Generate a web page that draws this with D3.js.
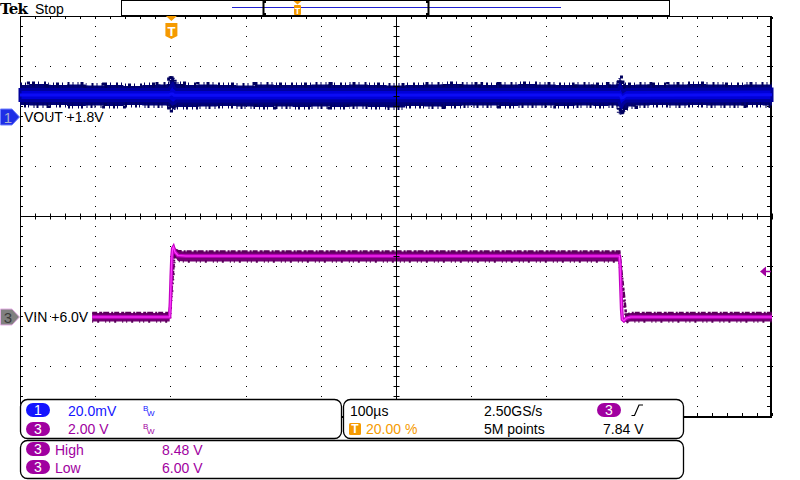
<!DOCTYPE html>
<html lang="en">
<head>
<meta charset="utf-8">
<title>Tek capture - VOUT / VIN step</title>
<script src="https://d3js.org/d3.v7.min.js"></script>
<style>
body { margin: 0; background: #ffffff; }
text { font-family: "Liberation Sans", Arial, sans-serif; }
</style>
</head>
<body>
<div id="scope"></div>
<script>
// ---- values read off the capture ----
// horizontal: 100us/div, trigger at 20 % of the record
var timeTicks = [-200, -100, 0, 100, 200, 300, 400, 500, 600, 700, 800];

// CH1 VOUT, mV above the +1.8V offset: outer noise envelope
var voutT  = [-200,-175,-150,-125,-100,-75,-50,-25,-8,-2,0,2,3,4,6,10,25,50,75,100,125,150,175,200,225,250,275,300,325,350,375,400,425,450,475,500,525,550,575,590,596,598,599,600,601,603,606,612,625,650,675,700,725,750,775,800];
var voutHi = [12.8,13.2,12.8,13.0,12.6,12.8,12.4,12.8,13.0,13.2,14.8,16.4,15.2,15.6,14.0,13.2,12.8,13.0,12.8,12.6,13.0,12.8,12.8,13.0,12.8,13.0,12.8,12.6,12.8,13.0,13.2,13.0,12.8,13.0,13.2,13.0,12.8,13.0,12.8,13.0,13.4,15.6,14.4,13.6,12.4,13.2,12.8,12.8,13.0,12.8,13.0,13.2,13.0,12.8,13.0,13.0];
var voutLo = [4.8,4.6,4.8,4.4,4.6,4.4,4.8,4.6,4.6,4.4,4.0,3.6,2.8,3.2,3.8,4.0,4.0,4.2,4.4,4.2,4.0,4.2,4.0,4.2,4.0,4.2,4.0,3.8,4.4,4.2,4.4,4.6,4.6,4.4,4.6,4.6,4.4,4.6,4.4,4.6,4.2,1.6,0.8,2.4,3.2,2.2,3.6,4.2,4.6,4.8,4.6,4.8,4.6,4.6,4.8,4.6];
// brighter core of the VOUT band
var coreT  = [-200, -2, 1, 3, 5, 8, 596, 598, 600, 602, 606, 800];
var coreHi = [11.0, 11.0, 12.4, 13.2, 11.8, 11.0, 11.0, 12.6, 11.4, 10.2, 11.0, 11.2];
var coreLo = [6.6, 6.6, 6.0, 5.2, 5.6, 6.4, 6.6, 5.0, 4.0, 5.4, 6.4, 6.6];

// CH3 VIN in volts, with noise band above / below the trace
var vinT  = [-104, -1, 0, 1, 2, 3, 4, 6, 10, 20, 597, 598, 599, 600, 601, 603, 606, 612, 800];
var vinV  = [6.0, 6.0, 6.6, 7.6, 8.4, 8.75, 8.8, 8.6, 8.46, 8.44, 8.44, 8.1, 7.2, 6.3, 5.9, 5.85, 5.95, 6.0, 6.0];
var vinUp = [0.16, 0.16, 0, 0, 0, 0, 0, 0.12, 0.18, 0.18, 0.18, 0, 0, 0, 0, 0, 0.12, 0.16, 0.16];
var vinDn = [0.18, 0.18, 0, 0, 0, 0, 0, 0.18, 0.22, 0.22, 0.22, 0, 0, 0, 0, 0, 0.16, 0.18, 0.18];

// readouts
var ch1Label = "VOUT +1.8V", ch3Label = "VIN +6.0V";
var ch1Scale = "20.0mV", ch3Scale = "2.00 V";
var timeDiv = "100µs", sampleRate = "2.50GS/s", recordLen = "5M points";
var trigPos = "20.00 %", trigLevel = 7.84, trigText = "7.84 V";
var measNames = ["High", "Low"], measVals = ["8.48 V", "6.00 V"];

// colours
var c1 = "#1414ff", c3 = "#a000a0", cT = "#f59a00";

var svg = d3.select("#scope")
  .append("svg")
    .attr("width", 800)
    .attr("height", 480);

// scales: time -> x, divisions -> y, and one per channel
var x = d3.scaleLinear().domain([-200, 800]).range([20, 772]);
var yDiv = d3.scaleLinear().domain([-4, 4]).range([416, 16]);
var ch1Pos = 1.98, ch3Pos = -2.02;   // channel offsets in divisions
var y1 = d3.scaleLinear().domain([0, 20]).range([yDiv(ch1Pos), yDiv(ch1Pos + 1)]);
var y3 = d3.scaleLinear().domain([6, 8]).range([yDiv(ch3Pos), yDiv(ch3Pos + 1)]);

var px = function(v) { return Math.round(v); };

// ---- graticule ----
var minorX = d3.range(-200, 801, 20);
var minorY = d3.range(-40, 41, 2).map(function(d) { return d / 10; });
var dots = [];
timeTicks.filter(function(t) { return t > -200 && t < 800 && t != 300; }).forEach(function(t) {
  minorY.forEach(function(v) { dots.push([x(t), yDiv(v)]); });
});
[-3, -2, -1, 1, 2, 3].forEach(function(v) {
  minorX.forEach(function(t) { dots.push([x(t), yDiv(v)]); });
});
svg.append("g")
  .selectAll("rect")
  .data(dots)
  .enter()
  .append("rect")
    .attr("x", function(d) { return px(d[0]); })
    .attr("y", function(d) { return px(d[1]); })
    .attr("width", 1)
    .attr("height", 1)
    .attr("fill", "#000");

// border with small ticks
var border = svg.append("g").attr("stroke", "#000");
border.append("line").attr("x1", 20).attr("x2", 772).attr("y1", 16.5).attr("y2", 16.5);
border.append("line").attr("x1", 20.5).attr("x2", 20.5).attr("y1", 16).attr("y2", 417);
border.append("line").attr("x1", 771).attr("x2", 771).attr("y1", 16).attr("y2", 418).attr("stroke-width", 2);
border.append("line").attr("x1", 20).attr("x2", 772).attr("y1", 417).attr("y2", 417).attr("stroke-width", 2);
minorX.forEach(function(t) {
  border.append("rect").attr("x", px(x(t))).attr("y", 17).attr("width", 1).attr("height", 2).attr("stroke", "none").attr("fill", "#000");
  border.append("rect").attr("x", px(x(t))).attr("y", 413).attr("width", 1).attr("height", 3).attr("stroke", "none").attr("fill", "#000");
});
minorY.forEach(function(v) {
  border.append("rect").attr("x", 21).attr("y", px(yDiv(v))).attr("width", 2).attr("height", 1).attr("stroke", "none").attr("fill", "#000");
  border.append("rect").attr("x", 767).attr("y", px(yDiv(v))).attr("width", 3).attr("height", 1).attr("stroke", "none").attr("fill", "#000");
});

// ---- CH1 VOUT band ----
var voutData = voutT.map(function(t, i) { return {t: t, hi: voutHi[i], lo: voutLo[i]}; });
var coreData = coreT.map(function(t, i) { return {t: t, hi: coreHi[i], lo: coreLo[i]}; });

svg.append("path")
  .datum(voutData)
  .attr("fill", "#000078")
  .attr("d", d3.area().curve(d3.curveStep)
    .x(function(d) { return x(d.t); })
    .y0(function(d) { return y1(d.lo); })
    .y1(function(d) { return y1(d.hi); }));
// ragged fringe on both edges
["hi", "lo"].forEach(function(k, i) {
  svg.append("path")
    .datum(voutData)
    .attr("fill", "none")
    .attr("stroke", "#00005e")
    .attr("stroke-width", 5)
    .attr("stroke-dasharray", i ? "1,3,2,2,1,5,1,2,2,4" : "2,3,1,4,1,2,3,3,1,5")
    .attr("d", d3.line().curve(d3.curveStep)
      .x(function(d) { return x(d.t); })
      .y(function(d) { return y1(d[k]); }));
});
svg.append("path")
  .datum(coreData)
  .attr("fill", "#0000d8")
  .attr("stroke", "#00009c")
  .attr("stroke-width", 3)
  .attr("d", d3.area()
    .x(function(d) { return x(d.t); })
    .y0(function(d) { return y1(d.lo); })
    .y1(function(d) { return y1(d.hi); }));
svg.append("path")
  .datum(coreData)
  .attr("fill", "none")
  .attr("stroke", "#0c0cf6")
  .attr("stroke-width", 3)
  .attr("d", d3.line()
    .x(function(d) { return x(d.t); })
    .y(function(d) { return y1((d.hi + d.lo) / 2); }));

// ---- CH3 VIN trace ----
var vinData = vinT.map(function(t, i) { return {t: t, v: vinV[i], up: vinUp[i], dn: vinDn[i]}; });
svg.append("path")
  .datum(vinData)
  .attr("fill", "#740074")
  .attr("d", d3.area()
    .x(function(d) { return x(d.t); })
    .y0(function(d) { return y3(d.v - d.dn); })
    .y1(function(d) { return y3(d.v + d.up); }));
["up", "dn"].forEach(function(k, i) {
  svg.append("path")
    .datum(vinData.filter(function(d) { return d[k] > 0.1; }))
    .attr("fill", "none")
    .attr("stroke", "#5a005a")
    .attr("stroke-width", 2.5)
    .attr("stroke-dasharray", i ? "1,4,2,6,1,3" : "5,2,3,1,6,2,2,1")
    .attr("d", d3.line()
      .x(function(d) { return x(d.t); })
      .y(function(d) { return y3(k == "up" ? d.v + d.up : d.v - d.dn); }));
});
svg.append("path")
  .datum(vinData)
  .attr("fill", "none")
  .attr("stroke", "#c400c4")
  .attr("stroke-width", 3.5)
  .attr("d", d3.line()
    .x(function(d) { return x(d.t); })
    .y(function(d) { return y3(d.v); }));
svg.append("path")
  .datum(vinData)
  .attr("fill", "none")
  .attr("stroke", "#ff3cff")
  .attr("stroke-width", 1.2)
  .attr("d", d3.line()
    .x(function(d) { return x(d.t); })
    .y(function(d) { return y3(d.v); }));

// ---- centre cross drawn on top of the traces ----
var cx0 = px(x(300)) + 0.5, cy0 = px(yDiv(0)) + 0.5;
var cross = svg.append("g").attr("stroke", "#000").attr("stroke-width", 1);
cross.append("line").attr("x1", cx0).attr("x2", cx0).attr("y1", 16).attr("y2", 416);
cross.append("line").attr("x1", 20).attr("x2", 771).attr("y1", cy0).attr("y2", cy0);
minorY.forEach(function(v) {
  cross.append("line").attr("x1", cx0 - 3).attr("x2", cx0 + 3).attr("y1", px(yDiv(v)) + 0.5).attr("y2", px(yDiv(v)) + 0.5);
});
minorX.forEach(function(t) {
  cross.append("line").attr("x1", px(x(t)) + 0.5).attr("x2", px(x(t)) + 0.5).attr("y1", cy0 - 3).attr("y2", cy0 + 3);
});

// ---- channel ground markers and labels ----
function chMarker(yc, fill, edge, txt, num) {
  var g = svg.append("g");
  g.append("path")
    .attr("d", "M0.5," + (yc - 8) + " H12 L19.5," + yc + " L12," + (yc + 8) + " H0.5 Z")
    .attr("fill", fill)
    .attr("stroke", edge);
  g.append("text")
    .attr("x", 8).attr("y", yc + 5.5)
    .attr("text-anchor", "middle")
    .attr("font-size", "15px")
    .attr("fill", txt)
    .text(num);
}
chMarker(px(y1(0)), "#1e2ee6", "#7080ff", "#a8acd0", "1");
chMarker(px(y3(6)), "#808080", "#e6b0e6", "#3a3a3a", "3");

svg.append("text").attr("x", 24).attr("y", px(y1(0)) + 5).attr("font-size", "14px").attr("fill", "#000").text(ch1Label);
svg.append("text").attr("x", 24).attr("y", px(y3(6)) + 5).attr("font-size", "14px").attr("fill", "#000").text(ch3Label);

// trigger level arrow on the right edge
var ty = px(y3(trigLevel)) + 0.5;
svg.append("path").attr("d", "M760," + ty + " L766," + (ty - 5) + " L766," + (ty + 5) + " Z").attr("fill", c3);
svg.append("line").attr("x1", 766).attr("x2", 771).attr("y1", ty).attr("y2", ty).attr("stroke", c3).attr("stroke-width", 1.5);

// trigger position marker at the top of the graticule
var tx = x(0) + 1;
svg.append("path").attr("d", "M" + (tx - 5.5) + ",16 H" + (tx + 5.5) + " L" + tx + ",21 Z").attr("fill", cT);
svg.append("path")
  .attr("d", "M" + (tx - 6) + ",23 H" + (tx + 6) + " V36 L" + tx + ",39 L" + (tx - 6) + ",36 Z")
  .attr("fill", cT);
svg.append("text").attr("x", tx).attr("y", 35.5).attr("text-anchor", "middle")
  .attr("font-size", "13px").attr("font-weight", "bold").attr("fill", "#fff").text("T");

// ---- header ----
svg.append("text").attr("x", 0).attr("y", 14)
  .style("font-family", "'DejaVu Serif', serif").attr("font-weight", "bold")
  .attr("font-size", "15px").attr("letter-spacing", "-0.8px").attr("fill", "#000").text("Tek");
svg.append("text").attr("x", 35).attr("y", 13.5).attr("font-size", "14px").attr("fill", "#000").text("Stop");
svg.append("rect").attr("x", 121.5).attr("y", 0.5).attr("width", 548).attr("height", 15)
  .attr("fill", "#fff").attr("stroke", "#000");
svg.append("line").attr("x1", 232).attr("x2", 561).attr("y1", 7.5).attr("y2", 7.5).attr("stroke", "#2020d0");
svg.append("path").attr("d", "M266,2 H263.5 V14 H266").attr("fill", "none").attr("stroke", "#000").attr("stroke-width", 2);
svg.append("path").attr("d", "M426,2 H428.5 V14 H426").attr("fill", "none").attr("stroke", "#000").attr("stroke-width", 2);
svg.append("path").attr("d", "M293.5,1 H301.5 L297.5,4.5 Z").attr("fill", cT);
svg.append("rect").attr("x", 294).attr("y", 5).attr("width", 7).attr("height", 10).attr("rx", 1).attr("fill", cT);
svg.append("text").attr("x", 297.5).attr("y", 13.5).attr("text-anchor", "middle")
  .attr("font-size", "9px").attr("font-weight", "bold").attr("fill", "#fff").text("T");

// ---- readout panels ----
function panel(x0, y0, w, h) {
  svg.append("rect").attr("x", x0 + 0.5).attr("y", y0 + 0.5).attr("width", w).attr("height", h)
    .attr("rx", 7).attr("fill", "#fff").attr("stroke", "#000").attr("stroke-width", 1.3);
}
function pill(x0, yc, fill, num) {
  svg.append("rect").attr("x", x0).attr("y", yc - 7).attr("width", 24).attr("height", 14)
    .attr("rx", 7).attr("fill", fill);
  svg.append("text").attr("x", x0 + 12).attr("y", yc + 5).attr("text-anchor", "middle")
    .attr("font-size", "14px").attr("fill", "#fff").text(num);
}
function label(xx, yy, txt, col) {
  svg.append("text").attr("x", xx).attr("y", yy).attr("font-size", "14px").attr("fill", col).text(txt);
}
function bw(xx, yy, col) {
  svg.append("text").attr("x", xx).attr("y", yy).attr("font-size", "8px").attr("fill", col).text("B");
  svg.append("text").attr("x", xx + 4).attr("y", yy + 5).attr("font-size", "8px").attr("fill", col).text("W");
}

panel(20, 399, 321, 39);
panel(343, 399, 340, 39);
panel(20, 440, 663, 38);

// vertical settings
pill(26, 410, c1, "1");
label(68, 415.5, ch1Scale, c1);
bw(143, 411, c1);
pill(26, 429, c3, "3");
label(68, 433.5, ch3Scale, c3);
bw(143, 429, c3);

// horizontal / trigger settings
label(350, 415.5, timeDiv, "#000");
label(484, 415.5, sampleRate, "#000");
pill(597, 410, c3, "3");
svg.append("path").attr("d", "M631.5,415.5 H634.5 L639,405 H643").attr("fill", "none").attr("stroke", "#000").attr("stroke-width", 1.2);
svg.append("rect").attr("x", 349).attr("y", 423).attr("width", 12).attr("height", 12).attr("rx", 1.5).attr("fill", cT);
svg.append("text").attr("x", 355).attr("y", 433).attr("text-anchor", "middle")
  .attr("font-size", "12px").attr("font-weight", "bold").attr("fill", "#fff").text("T");
label(366, 433.5, trigPos, cT);
label(484, 433.5, recordLen, "#000");
label(603, 433.5, trigText, "#000");

// measurements
measNames.forEach(function(n, i) {
  var yc = 449 + i * 18;
  pill(26, yc, c3, "3");
  label(55, yc + 5.5, n, c3);
  label(162, yc + 5.5, measVals[i], c3);
});
</script>
</body>
</html>
